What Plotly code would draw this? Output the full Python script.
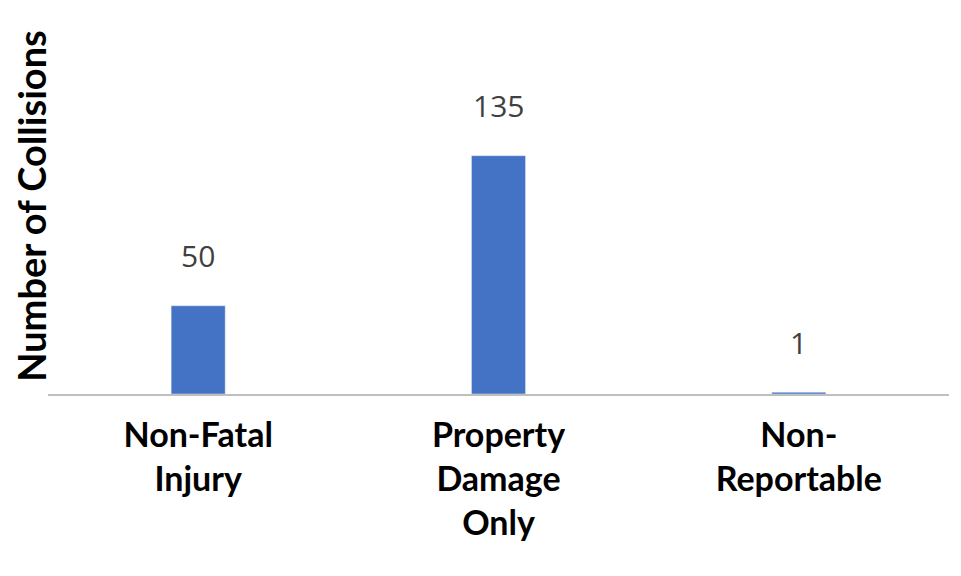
import plotly.graph_objects as go

categories = ["Non-Fatal<br>Injury", "Property<br>Damage<br>Only", "Non-<br>Reportable"]
values = [50, 135, 1]

fig = go.Figure(go.Bar(x=categories, y=values, marker_color="#4472C4"))
for c, v in zip(categories, values):
    fig.add_annotation(x=c, y=v, text=str(v), showarrow=False, yanchor="middle", yshift=50,
                       font=dict(family="Open Sans", size=30, color="#404040"))
fig.update_layout(
    width=961, height=576, plot_bgcolor="white", paper_bgcolor="white",
    margin=dict(l=40, r=20, t=10, b=190), bargap=0.82, showlegend=False,
)
fig.update_xaxes(showline=True, linecolor="#BFBFBF", linewidth=2, ticks="",
                 tickfont=dict(family="Lato", size=34, color="black", weight="bold"),
                 ticklabelstandoff=10)
fig.update_yaxes(range=[0, 213], showgrid=False, showticklabels=False, zeroline=False,
                 title=dict(text="Number of Collisions", standoff=0,
                            font=dict(family="Lato", size=38, color="black", weight="bold")))
fig.write_html("out.html")
